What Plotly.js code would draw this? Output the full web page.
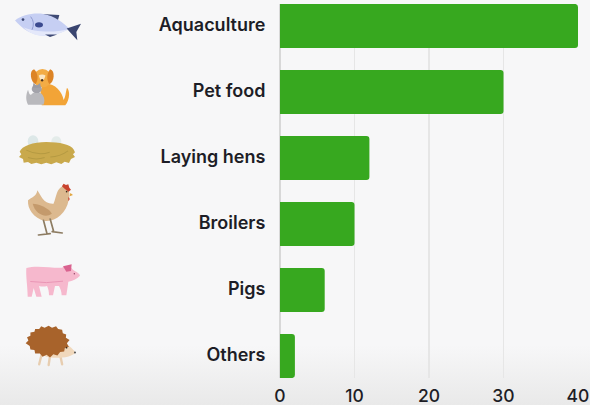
<!DOCTYPE html>
<html>
<head>
<meta charset="utf-8">
<script src="https://cdn.plot.ly/plotly-3.0.1.min.js"></script>
<style>
  html, body { margin: 0; padding: 0; width: 590px; height: 405px; overflow: hidden;
    background: linear-gradient(to bottom, #f7f7f8 0, #f7f7f8 345px, #e9e9e9 405px); }
  #chart { width: 590px; height: 405px; }
</style>
</head>
<body>
<div id="chart"></div>
<script>
// Feed use by sector
const categories = ['Aquaculture', 'Pet food', 'Laying hens', 'Broilers', 'Pigs', 'Others'];
const shares = [40, 30, 12, 10, 6, 2];
const xTicks = [0, 10, 20, 30, 40];

const plotLeft = 280, plotRight = 578, plotTop = 4, plotBottom = 378;

// Small illustrations beside each category, drawn as inline SVG
const fishIcon = `<svg xmlns="http://www.w3.org/2000/svg" viewBox="45 36 198 88">
<path d="M122,42 L178,45 L172,68 Q150,50 122,42Z" fill="#3f4a75"/>
<path d="M45,62 C65,45 100,38 130,42 C165,48 190,70 208,86 C185,100 160,108 130,108 C95,108 65,85 45,62Z" fill="#c6cff3"/>
<path d="M70,82 C100,96 160,100 205,88 C185,100 160,108 130,108 C105,108 85,97 70,82Z" fill="#e4e8fa"/>
<path d="M200,86 L243,72 L229,97 L232,122 Z" fill="#3a4570"/>
<path d="M135,104 L172,104 L150,112Z" fill="#3f4a75"/>
<ellipse cx="117" cy="75" rx="12" ry="8" fill="#3b4a8f"/>
<path d="M92,50 Q106,68 96,90" fill="none" stroke="#8f9ad0" stroke-width="3"/>
<circle cx="69" cy="59" r="4" fill="#3a4570"/></svg>`;

const petsIcon = `<svg xmlns="http://www.w3.org/2000/svg" viewBox="75 204 134 112">
<path d="M130,250 C160,245 186,272 190,298 C196,290 196,275 200,262 C212,275 205,302 195,314 L125,314 C118,290 120,265 130,250Z" fill="#f2a437"/>
<ellipse cx="127" cy="234" rx="27" ry="27" fill="#f3ac45"/>
<path d="M102,208 C86,212 92,246 106,252 C116,240 114,218 102,208Z" fill="#dd8425"/>
<path d="M150,208 C166,212 162,246 148,252 C138,240 140,218 150,208Z" fill="#dd8425"/>
<path d="M116,226 C120,245 132,245 136,226 C131,222 121,222 116,226Z" fill="#fbe6c4"/>
<circle cx="126" cy="240" r="3.5" fill="#4a3320"/>
<path d="M84,312 C76,296 78,282 84,268 C88,282 90,284 94,282 C100,274 120,272 128,284 C134,294 134,304 130,312Z" fill="#b9b9bd"/>
<ellipse cx="110" cy="266" rx="15" ry="12" fill="#a3a3aa"/>
<path d="M98,262 L100,248 L110,256 L120,248 L122,262Z" fill="#9c9ca3"/></svg>`;

const nestIcon = `<svg xmlns="http://www.w3.org/2000/svg" viewBox="58 402 168 92">
<ellipse cx="100" cy="424" rx="16" ry="18" fill="#dde8e8"/>
<ellipse cx="170" cy="424" rx="15" ry="15" fill="#e4ecea"/>
<path d="M60,455 C66,438 100,426 140,426 C180,426 214,434 222,448 L226,456 L220,462 L226,470 L214,476 L208,488 L195,484 L185,491 L170,486 L155,492 L140,487 L125,492 L110,487 L95,491 L85,485 L72,487 L70,476 L58,470 L65,462Z" fill="#c9a94c"/>
<path d="M80,450 Q115,468 150,456 M152,470 Q180,470 205,452 M85,472 Q110,480 135,472" fill="none" stroke="#b59a42" stroke-width="3"/></svg>`;

const henIcon = `<svg xmlns="http://www.w3.org/2000/svg" viewBox="78 548 140 162">
<path d="M160,610 C170,585 168,565 190,556 C208,560 210,580 205,600 C198,640 165,665 135,662 C100,655 82,625 84,600 C95,590 108,590 112,570 C122,585 130,612 160,610Z" fill="#dcb98f"/>
<path d="M98,610 C115,610 150,625 155,640 C135,655 105,640 98,610Z" fill="#c49a6c"/>
<path d="M185,558 L190,550 L197,554 L204,552 L207,562 L212,568 L205,574 L194,566Z" fill="#c8432e"/>
<path d="M210,578 L218,584 L208,588Z" fill="#e0a43c"/>
<path d="M204,590 Q212,596 204,602Z" fill="#c8432e"/>
<circle cx="199" cy="574" r="2.5" fill="#3a2a1c"/>
<path d="M130,660 L140,698 M115,704 L150,700 M150,656 L160,692 M156,694 L186,698" fill="none" stroke="#8d7c62" stroke-width="5" stroke-linecap="round"/></svg>`;

const pigIcon = `<svg xmlns="http://www.w3.org/2000/svg" viewBox="76 190 168 104">
<path d="M80,205 C110,196 160,206 186,204 C200,198 212,200 220,210 C228,216 240,220 241,228 C232,238 218,244 206,246 C204,262 202,275 200,286 L186,286 C186,275 182,265 178,258 L166,258 L160,286 L148,286 C148,275 146,265 142,258 C134,260 126,260 118,258 L126,290 L110,290 L102,264 L96,290 L84,290 C84,260 78,230 80,205Z" fill="#f6b8cd"/>
<path d="M190,200 L216,194 L214,214 L200,216Z" fill="#d9628f"/>
<path d="M92,245 Q140,252 190,244" fill="none" stroke="#e78fb0" stroke-width="2.5"/>
<circle cx="224" cy="222" r="2" fill="#8a3c5c"/></svg>`;

const hedgehogIcon = `<svg xmlns="http://www.w3.org/2000/svg" viewBox="76 374 154 124">
<path d="M125,462 L118,490 M150,466 L146,492 M180,462 L186,490" stroke="#e7cdb0" stroke-width="7" stroke-linecap="round"/>
<path d="M170,440 C188,425 208,430 226,456 C210,470 185,472 150,470 C130,468 120,460 170,440Z" fill="#f0d8bc"/>
<path d="M78,428 L86,420 L82,410 L92,406 L92,396 L104,394 L106,386 L118,386 L124,378 L134,382 L146,376 L156,382 L168,378 L174,386 L186,388 L188,398 L198,402 L197,412 L208,418 L200,428 L206,438 L194,442 L192,452 L180,454 L172,464 L160,460 L150,470 L140,462 L128,468 L120,458 L106,458 L104,448 L92,446 L90,436Z" fill="#a8632b"/>
<circle cx="199" cy="441" r="2.5" fill="#3a2a1c"/>
<circle cx="224" cy="455" r="3" fill="#555"/></svg>`;

const icons = [
  { svg: fishIcon, x: 15, y: 12, w: 66, h: 29 },
  { svg: petsIcon, x: 25, y: 68, w: 45, h: 38 },
  { svg: nestIcon, x: 19, y: 134, w: 56, h: 31 },
  { svg: henIcon, x: 26, y: 183, w: 47, h: 54 },
  { svg: pigIcon, x: 25, y: 263, w: 56, h: 35 },
  { svg: hedgehogIcon, x: 25, y: 325, w: 52, h: 42 }
];

// Icons sit outside the plot area, so their boxes are converted to paper fractions
const plotW = plotRight - plotLeft, plotH = plotBottom - plotTop;
const images = icons.map(ic => ({
  source: 'data:image/svg+xml;charset=utf-8,' + encodeURIComponent(ic.svg),
  xref: 'paper', yref: 'paper',
  x: (ic.x - plotLeft) / plotW,
  y: (plotBottom - ic.y) / plotH,
  sizex: ic.w / plotW, sizey: ic.h / plotH,
  xanchor: 'left', yanchor: 'top', sizing: 'stretch', layer: 'above'
}));

const labelFont = { family: 'Inter, sans-serif', size: 18, color: '#1d1d26', weight: 600 };
const numberFont = { family: 'Inter, sans-serif', size: 17.5, color: '#1d1d26', weight: 500 };

Plotly.newPlot('chart', [{
  type: 'bar',
  orientation: 'h',
  y: categories,
  x: shares,
  width: 0.667,
  marker: { color: '#37a81f', cornerradius: 3, line: { width: 0 } },
  hoverinfo: 'x+y'
}], {
  width: 590, height: 405,
  margin: { l: plotLeft, r: 590 - plotRight, t: plotTop, b: 405 - plotBottom, pad: 0 },
  paper_bgcolor: 'rgba(0,0,0,0)',
  plot_bgcolor: 'rgba(0,0,0,0)',
  showlegend: false,
  images: images,
  xaxis: {
    range: [0, 40], tickvals: xTicks, ticktext: xTicks.map(String),
    showgrid: true, gridcolor: '#e6e6e6', gridwidth: 1.5,
    zeroline: true, zerolinecolor: '#d8d8d8', zerolinewidth: 2,
    ticks: 'outside', ticklen: 2, tickcolor: 'rgba(0,0,0,0)',
    tickfont: numberFont, showline: false, automargin: false
  },
  yaxis: {
    type: 'category', categoryorder: 'array', categoryarray: categories,
    range: [5.333, -0.333],
    ticks: 'outside', ticklen: 10, tickcolor: 'rgba(0,0,0,0)', ticklabelshift: 1,
    tickfont: labelFont, showgrid: false, showline: false, zeroline: false, automargin: false
  }
}, { displayModeBar: false, staticPlot: true });
</script>
</body>
</html>
